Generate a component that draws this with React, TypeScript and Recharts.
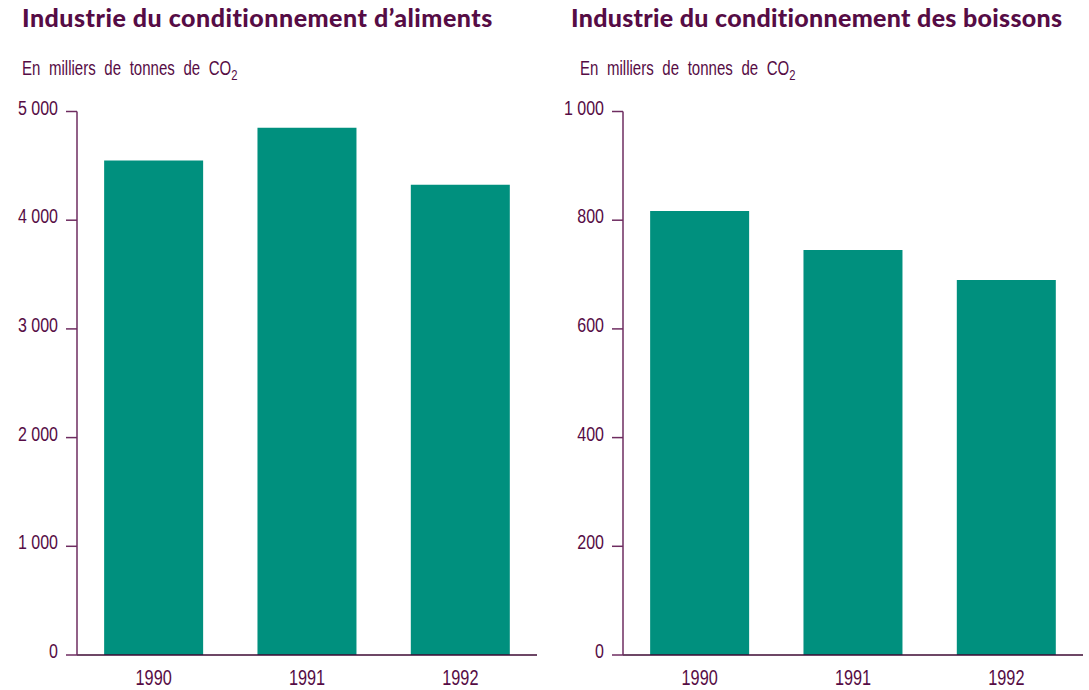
import { BarChart, Bar, XAxis, YAxis } from 'recharts';

const years = ['1990', '1991', '1992'];
const alimentsValues = [4550, 4850, 4325];
const boissonsValues = [817, 745, 690];
const alimentsTicks = [0, 1000, 2000, 3000, 4000, 5000];
const boissonsTicks = [0, 200, 400, 600, 800, 1000];

const titleAliments = 'Industrie du conditionnement d’aliments';
const titleBoissons = 'Industrie du conditionnement des boissons';
const unitLabel = 'En milliers de tonnes de CO';

const purple = '#560c45';
const axisPurple = '#6e2c60';
const teal = '#00907e';
const narrowFont = '"Liberation Sans", Arial, sans-serif';

// espace comme séparateur de milliers : 5 000
const fmt = (v: number) => String(v).replace(/\B(?=(\d{3})+(?!\d))/g, ' ');

// police étroite : on resserre horizontalement
const YTick = (props: any) => {
  const { x, y, payload } = props;
  return (
    <g transform={`translate(${x},${y + 3})`}>
      <text transform="scale(0.8,1)" textAnchor="end" fill={purple} fontFamily={narrowFont} fontSize={20}>
        {fmt(payload.value)}
      </text>
    </g>
  );
};

const XTick = (props: any) => {
  const { x, y, payload } = props;
  return (
    <g transform={`translate(${x},${y + 18})`}>
      <text transform="scale(0.74,1)" textAnchor="middle" fill={purple} fontFamily={narrowFont} fontSize={22}>
        {payload.value}
      </text>
    </g>
  );
};

interface PanelProps {
  left: number;
  title: string;
  titleLeft: number;
  titleSpacing: number;
  unitLeft: number;
  values: number[];
  ticks: number[];
}

function Panel({ left, title, titleLeft, titleSpacing, unitLeft, values, ticks }: PanelProps) {
  const data = years.map((y, i) => ({ year: y, value: values[i] }));
  const max = ticks[ticks.length - 1];

  return (
    <>
      <div
        style={{
          position: 'absolute',
          left: titleLeft,
          top: 2,
          fontFamily: 'Lato, sans-serif',
          fontWeight: 900,
          fontSize: 25,
          letterSpacing: titleSpacing,
          color: purple,
          whiteSpace: 'nowrap',
        }}
      >
        {title}
      </div>
      <div
        style={{
          position: 'absolute',
          left: unitLeft,
          top: 57,
          fontFamily: narrowFont,
          fontSize: 20,
          wordSpacing: 6,
          color: purple,
          whiteSpace: 'nowrap',
          transform: 'scaleX(0.75)',
          transformOrigin: 'left top',
        }}
      >
        {unitLabel}
        <sub style={{ fontSize: 15 }}>2</sub>
      </div>
      <div style={{ position: 'absolute', left, top: 0 }}>
        <BarChart
          width={545}
          height={690}
          data={data}
          margin={{ top: 111.5, right: 8, bottom: 5, left: 0 }}
          barCategoryGap="17.7%"
        >
          <XAxis
            dataKey="year"
            height={30}
            tickLine={false}
            tickSize={0}
            tickMargin={12}
            stroke="#3d0a33"
            strokeWidth={1.5}
            tick={<XTick />}
          />
          <YAxis
            width={77}
            domain={[0, max]}
            ticks={ticks}
            interval={0}
            tickSize={11}
            tickMargin={8}
            stroke={axisPurple}
            strokeWidth={1.5}
            tick={<YTick />}
          />
          <Bar dataKey="value" fill={teal} isAnimationActive={false} />
        </BarChart>
      </div>
    </>
  );
}

export default function App() {
  return (
    <div
      style={{
        position: 'fixed',
        left: 0,
        top: 0,
        width: 1089,
        height: 690,
        background: '#ffffff',
        overflow: 'hidden',
      }}
    >
      <Panel
        left={0}
        title={titleAliments}
        titleLeft={22}
        titleSpacing={0.5}
        unitLeft={22}
        values={alimentsValues}
        ticks={alimentsTicks}
      />
      <Panel
        left={546}
        title={titleBoissons}
        titleLeft={571}
        titleSpacing={0.3}
        unitLeft={580}
        values={boissonsValues}
        ticks={boissonsTicks}
      />
    </div>
  );
}
